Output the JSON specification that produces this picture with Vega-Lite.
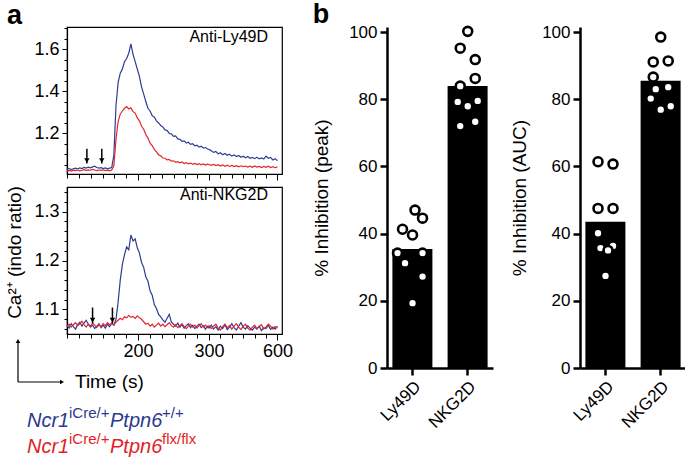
{
  "$schema": "https://vega.github.io/schema/vega-lite/v6.json",
  "padding": {"left": 5, "top": 0, "right": 0, "bottom": 0},
  "background": "white",
  "config": {
    "font": "Liberation Sans",
    "view": {"stroke": null},
    "axis": {"labelFont": "Liberation Sans", "titleFont": "Liberation Sans", "labelColor": "black", "titleColor": "black", "domainColor": "black", "tickColor": "black", "grid": false, "titleFontWeight": "normal", "labelOverlap": false},
    "title": {"font": "Liberation Sans", "fontWeight": "bold", "fontSize": 27, "anchor": "start", "frame": "bounds", "color": "black"}
  },
  "datasets": {
    "traces": [
      {"t":100,"lb":1.028,"lr":1.020,"nb":1.068,"nr":1.066},
      {"t":103,"lb":1.031,"lr":1.022,"nb":1.062,"nr":1.070},
      {"t":106,"lb":1.026,"lr":1.019,"nb":1.071,"nr":1.064},
      {"t":109,"lb":1.030,"lr":1.023,"nb":1.065,"nr":1.069},
      {"t":112,"lb":1.033,"lr":1.021,"nb":1.060,"nr":1.073},
      {"t":115,"lb":1.029,"lr":1.024,"nb":1.069,"nr":1.067},
      {"t":118,"lb":1.034,"lr":1.020,"nb":1.074,"nr":1.071},
      {"t":121,"lb":1.031,"lr":1.023,"nb":1.066,"nr":1.076},
      {"t":124,"lb":1.036,"lr":1.026,"nb":1.072,"nr":1.069},
      {"t":127,"lb":1.033,"lr":1.022,"nb":1.078,"nr":1.064},
      {"t":130,"lb":1.038,"lr":1.025,"nb":1.070,"nr":1.070},
      {"t":133,"lb":1.034,"lr":1.023,"nb":1.064,"nr":1.066},
      {"t":136,"lb":1.039,"lr":1.027,"nb":1.068,"nr":1.072},
      {"t":139,"lb":1.042,"lr":1.024,"nb":1.061,"nr":1.068},
      {"t":142,"lb":1.036,"lr":1.021,"nb":1.066,"nr":1.063},
      {"t":145,"lb":1.033,"lr":1.024,"nb":1.071,"nr":1.069},
      {"t":148,"lb":1.035,"lr":1.022,"nb":1.063,"nr":1.065},
      {"t":151,"lb":1.031,"lr":1.025,"nb":1.068,"nr":1.071},
      {"t":154,"lb":1.034,"lr":1.021,"nb":1.062,"nr":1.067},
      {"t":157,"lb":1.030,"lr":1.023,"nb":1.070,"nr":1.073},
      {"t":160,"lb":1.033,"lr":1.020,"nb":1.065,"nr":1.069},
      {"t":163,"lb":1.036,"lr":1.024,"nb":1.072,"nr":1.072},
      {"t":166,"lb":1.095,"lr":1.045,"nb":1.068,"nr":1.068},
      {"t":169,"lb":1.330,"lr":1.170,"nb":1.080,"nr":1.074},
      {"t":172,"lb":1.440,"lr":1.255,"nb":1.115,"nr":1.078},
      {"t":175,"lb":1.485,"lr":1.290,"nb":1.160,"nr":1.082},
      {"t":178,"lb":1.505,"lr":1.305,"nb":1.192,"nr":1.079},
      {"t":181,"lb":1.540,"lr":1.318,"nb":1.212,"nr":1.085},
      {"t":184,"lb":1.555,"lr":1.326,"nb":1.228,"nr":1.083},
      {"t":187,"lb":1.580,"lr":1.315,"nb":1.222,"nr":1.088},
      {"t":190,"lb":1.625,"lr":1.320,"nb":1.252,"nr":1.084},
      {"t":193,"lb":1.575,"lr":1.302,"nb":1.240,"nr":1.086},
      {"t":196,"lb":1.540,"lr":1.295,"nb":1.244,"nr":1.082},
      {"t":199,"lb":1.505,"lr":1.272,"nb":1.226,"nr":1.087},
      {"t":202,"lb":1.470,"lr":1.258,"nb":1.215,"nr":1.083},
      {"t":205,"lb":1.420,"lr":1.232,"nb":1.196,"nr":1.080},
      {"t":208,"lb":1.385,"lr":1.218,"nb":1.186,"nr":1.075},
      {"t":211,"lb":1.350,"lr":1.193,"nb":1.166,"nr":1.070},
      {"t":214,"lb":1.318,"lr":1.176,"nb":1.158,"nr":1.072},
      {"t":217,"lb":1.305,"lr":1.152,"nb":1.138,"nr":1.066},
      {"t":220,"lb":1.282,"lr":1.140,"nb":1.129,"nr":1.070},
      {"t":223,"lb":1.276,"lr":1.122,"nb":1.110,"nr":1.064},
      {"t":226,"lb":1.258,"lr":1.110,"nb":1.102,"nr":1.068},
      {"t":229,"lb":1.248,"lr":1.096,"nb":1.090,"nr":1.072},
      {"t":232,"lb":1.236,"lr":1.092,"nb":1.085,"nr":1.066},
      {"t":235,"lb":1.229,"lr":1.081,"nb":1.079,"nr":1.070},
      {"t":238,"lb":1.215,"lr":1.080,"nb":1.074,"nr":1.065},
      {"t":241,"lb":1.212,"lr":1.072,"nb":1.082,"nr":1.069},
      {"t":244,"lb":1.198,"lr":1.074,"nb":1.090,"nr":1.073},
      {"t":247,"lb":1.196,"lr":1.066,"nb":1.074,"nr":1.067},
      {"t":250,"lb":1.184,"lr":1.068,"nb":1.070,"nr":1.064},
      {"t":253,"lb":1.186,"lr":1.061,"nb":1.066,"nr":1.069},
      {"t":256,"lb":1.172,"lr":1.064,"nb":1.072,"nr":1.063},
      {"t":259,"lb":1.170,"lr":1.058,"nb":1.064,"nr":1.067},
      {"t":262,"lb":1.161,"lr":1.062,"nb":1.069,"nr":1.071},
      {"t":265,"lb":1.163,"lr":1.055,"nb":1.062,"nr":1.065},
      {"t":268,"lb":1.152,"lr":1.059,"nb":1.067,"nr":1.061},
      {"t":271,"lb":1.156,"lr":1.053,"nb":1.071,"nr":1.066},
      {"t":274,"lb":1.146,"lr":1.057,"nb":1.063,"nr":1.070},
      {"t":277,"lb":1.149,"lr":1.051,"nb":1.068,"nr":1.064},
      {"t":280,"lb":1.139,"lr":1.055,"nb":1.061,"nr":1.068},
      {"t":283,"lb":1.142,"lr":1.050,"nb":1.066,"nr":1.062},
      {"t":286,"lb":1.133,"lr":1.054,"nb":1.070,"nr":1.067},
      {"t":289,"lb":1.137,"lr":1.049,"nb":1.063,"nr":1.071},
      {"t":292,"lb":1.128,"lr":1.053,"nb":1.067,"nr":1.064},
      {"t":295,"lb":1.131,"lr":1.048,"nb":1.060,"nr":1.068},
      {"t":298,"lb":1.124,"lr":1.052,"nb":1.066,"nr":1.063},
      {"t":300,"lb":1.122,"lr":1.050,"nb":1.062,"nr":1.067},
      {"t":310,"lb":1.116,"lr":1.046,"nb":1.068,"nr":1.061},
      {"t":320,"lb":1.108,"lr":1.051,"nb":1.060,"nr":1.066},
      {"t":330,"lb":1.112,"lr":1.045,"nb":1.065,"nr":1.070},
      {"t":340,"lb":1.101,"lr":1.049,"nb":1.058,"nr":1.062},
      {"t":350,"lb":1.106,"lr":1.043,"nb":1.066,"nr":1.058},
      {"t":360,"lb":1.097,"lr":1.048,"nb":1.061,"nr":1.065},
      {"t":370,"lb":1.103,"lr":1.042,"nb":1.069,"nr":1.070},
      {"t":380,"lb":1.094,"lr":1.047,"nb":1.059,"nr":1.063},
      {"t":390,"lb":1.099,"lr":1.041,"nb":1.064,"nr":1.067},
      {"t":400,"lb":1.090,"lr":1.046,"nb":1.071,"nr":1.060},
      {"t":410,"lb":1.096,"lr":1.040,"nb":1.063,"nr":1.066},
      {"t":420,"lb":1.088,"lr":1.045,"nb":1.058,"nr":1.071},
      {"t":430,"lb":1.093,"lr":1.039,"nb":1.066,"nr":1.064},
      {"t":440,"lb":1.085,"lr":1.044,"nb":1.073,"nr":1.059},
      {"t":450,"lb":1.090,"lr":1.040,"nb":1.064,"nr":1.066},
      {"t":460,"lb":1.082,"lr":1.043,"nb":1.060,"nr":1.070},
      {"t":470,"lb":1.088,"lr":1.038,"nb":1.067,"nr":1.062},
      {"t":480,"lb":1.080,"lr":1.042,"nb":1.062,"nr":1.058},
      {"t":490,"lb":1.084,"lr":1.037,"nb":1.058,"nr":1.064},
      {"t":500,"lb":1.078,"lr":1.043,"nb":1.064,"nr":1.068},
      {"t":510,"lb":1.085,"lr":1.038,"nb":1.060,"nr":1.061},
      {"t":520,"lb":1.077,"lr":1.041,"nb":1.066,"nr":1.065},
      {"t":530,"lb":1.082,"lr":1.036,"nb":1.057,"nr":1.069},
      {"t":540,"lb":1.076,"lr":1.041,"nb":1.063,"nr":1.060},
      {"t":550,"lb":1.090,"lr":1.037,"nb":1.061,"nr":1.064},
      {"t":560,"lb":1.080,"lr":1.042,"nb":1.068,"nr":1.070},
      {"t":570,"lb":1.084,"lr":1.036,"nb":1.059,"nr":1.066},
      {"t":580,"lb":1.072,"lr":1.040,"nb":1.064,"nr":1.060},
      {"t":590,"lb":1.078,"lr":1.035,"nb":1.060,"nr":1.065},
      {"t":600,"lb":1.068,"lr":1.039,"nb":1.066,"nr":1.062}
    ],
    "arrows": [
      {"panel":"Ly49D","t":128,"top":1.125,"tip":1.055},
      {"panel":"Ly49D","t":149,"top":1.125,"tip":1.055},
      {"panel":"NKG2D","t":136,"top":1.104,"tip":1.072},
      {"panel":"NKG2D","t":164,"top":1.104,"tip":1.072}
    ],
    "inhibition": [
      {"measure":"peak","receptor":"Ly49D","value":47.0,"lane":1},
      {"measure":"peak","receptor":"Ly49D","value":44.6,"lane":4},
      {"measure":"peak","receptor":"Ly49D","value":41.3,"lane":-4},
      {"measure":"peak","receptor":"Ly49D","value":39.6,"lane":0},
      {"measure":"peak","receptor":"Ly49D","value":34.2,"lane":-6},
      {"measure":"peak","receptor":"Ly49D","value":34.2,"lane":4},
      {"measure":"peak","receptor":"Ly49D","value":31.2,"lane":-3},
      {"measure":"peak","receptor":"Ly49D","value":27.2,"lane":4},
      {"measure":"peak","receptor":"Ly49D","value":19.3,"lane":0},
      {"measure":"peak","receptor":"NKG2D","value":100.2,"lane":0},
      {"measure":"peak","receptor":"NKG2D","value":95.2,"lane":-3},
      {"measure":"peak","receptor":"NKG2D","value":91.8,"lane":3},
      {"measure":"peak","receptor":"NKG2D","value":86.2,"lane":3},
      {"measure":"peak","receptor":"NKG2D","value":83.9,"lane":-3},
      {"measure":"peak","receptor":"NKG2D","value":79.2,"lane":-4},
      {"measure":"peak","receptor":"NKG2D","value":77.9,"lane":0},
      {"measure":"peak","receptor":"NKG2D","value":79.5,"lane":4},
      {"measure":"peak","receptor":"NKG2D","value":72.0,"lane":-3},
      {"measure":"peak","receptor":"NKG2D","value":73.3,"lane":3},
      {"measure":"AUC","receptor":"Ly49D","value":61.4,"lane":-3},
      {"measure":"AUC","receptor":"Ly49D","value":60.7,"lane":3},
      {"measure":"AUC","receptor":"Ly49D","value":47.5,"lane":-3},
      {"measure":"AUC","receptor":"Ly49D","value":47.5,"lane":3},
      {"measure":"AUC","receptor":"Ly49D","value":40.1,"lane":-3},
      {"measure":"AUC","receptor":"Ly49D","value":35.7,"lane":-2},
      {"measure":"AUC","receptor":"Ly49D","value":36.3,"lane":3},
      {"measure":"AUC","receptor":"Ly49D","value":35.0,"lane":1},
      {"measure":"AUC","receptor":"Ly49D","value":27.4,"lane":0},
      {"measure":"AUC","receptor":"NKG2D","value":98.5,"lane":0},
      {"measure":"AUC","receptor":"NKG2D","value":91.1,"lane":-3},
      {"measure":"AUC","receptor":"NKG2D","value":91.4,"lane":3},
      {"measure":"AUC","receptor":"NKG2D","value":86.6,"lane":-3},
      {"measure":"AUC","receptor":"NKG2D","value":83.0,"lane":-2},
      {"measure":"AUC","receptor":"NKG2D","value":83.6,"lane":3},
      {"measure":"AUC","receptor":"NKG2D","value":80.2,"lane":-4},
      {"measure":"AUC","receptor":"NKG2D","value":77.9,"lane":4},
      {"measure":"AUC","receptor":"NKG2D","value":76.9,"lane":0}
    ]
  },
  "spacing": 18,
  "hconcat": [
    {
      "bounds": "flush",
      "spacing": 13,
      "vconcat": [
        {
          "width": 215, "height": 147,
          "view": {"stroke": "black", "strokeWidth": 1.2},
          "title": {"text": "Anti-Ly49D", "anchor": "end", "frame": "group", "offset": -26, "dx": -14, "fontSize": 16, "fontWeight": "normal"},
          "encoding": {
            "x": {"field": "t", "type": "quantitative",
              "scale": {"domain": [100, 300, 620], "range": [0, 142, 215], "nice": false, "zero": false},
              "axis": {"title": null, "labels": false, "labelOverlap": false,
                "values": [100,116.667,133.333,150,166.667,183.333,200,216.667,233.333,250,266.667,283.333,300,350,400,450,500,550,600],
                "tickSize": {"condition": {"test": "datum.value==200||datum.value==300||datum.value==600", "value": 6}, "value": 4},
                "tickWidth": 1, "domainWidth": 1.2}},
            "y": {"field": "value", "type": "quantitative",
              "scale": {"domain": [1.005, 1.705], "nice": false, "zero": false},
              "axis": {"title": null, "labelOverlap": false, "values": [1.05,1.1,1.15,1.2,1.25,1.3,1.35,1.4,1.45,1.5,1.55,1.6,1.65,1.7],
                "labelExpr": "abs(datum.value-1.2)<0.001||abs(datum.value-1.4)<0.001||abs(datum.value-1.6)<0.001 ? format(datum.value,'.1f') : ''",
                "tickSize": {"condition": {"test": "abs(datum.value-1.2)<0.001||abs(datum.value-1.4)<0.001||abs(datum.value-1.6)<0.001", "value": 5}, "value": 3},
                "labelFontSize": 18, "labelPadding": 3, "tickWidth": 1, "domainWidth": 1.2}}
          },
          "layer": [
            {"data": {"name": "traces"},
             "transform": [{"fold": ["lb", "lr"], "as": ["series", "value"]}],
             "mark": {"type": "line", "strokeWidth": 1.2},
             "encoding": {"color": {"field": "series", "type": "nominal", "scale": {"domain": ["lb", "lr"], "range": ["#2E3D94", "#E3262D"]}, "legend": null}}},
            {"data": {"name": "arrows"},
             "transform": [{"filter": "datum.panel == 'Ly49D'"}, {"calculate": "datum.top", "as": "value"}],
             "mark": {"type": "rule", "color": "black", "strokeWidth": 1.5},
             "encoding": {"y2": {"field": "tip"}}},
            {"data": {"name": "arrows"},
             "transform": [{"filter": "datum.panel == 'Ly49D'"}, {"calculate": "datum.tip", "as": "value"}],
             "mark": {"type": "point", "shape": "triangle-down", "filled": true, "color": "black", "size": 30, "yOffset": -3, "opacity": 1}}
          ]
        },
        {
          "width": 215, "height": 147,
          "view": {"stroke": "black", "strokeWidth": 1.2},
          "title": {"text": "Anti-NKG2D", "anchor": "end", "frame": "group", "offset": -20, "dx": -14, "fontSize": 16, "fontWeight": "normal"},
          "encoding": {
            "x": {"field": "t", "type": "quantitative",
              "scale": {"domain": [100, 300, 620], "range": [0, 142, 215], "nice": false, "zero": false},
              "axis": {"title": null, "labelOverlap": false,
                "values": [100,116.667,133.333,150,166.667,183.333,200,216.667,233.333,250,266.667,283.333,300,350,400,450,500,550,600],
                "labelExpr": "datum.value==200||datum.value==300||datum.value==600 ? format(datum.value,'d') : ''",
                "tickSize": {"condition": {"test": "datum.value==200||datum.value==300||datum.value==600", "value": 6}, "value": 4},
                "labelFontSize": 18, "labelPadding": 2, "tickWidth": 1, "domainWidth": 1.2}},
            "y": {"field": "value", "type": "quantitative",
              "scale": {"domain": [1.05, 1.35], "nice": false, "zero": false},
              "axis": {"title": "Ca²⁺ (indo ratio)", "titleFontSize": 19, "titlePadding": 9, "titleY": 65, "labelOverlap": false,
                "values": [1.06,1.08,1.1,1.12,1.14,1.16,1.18,1.2,1.22,1.24,1.26,1.28,1.3,1.32,1.34],
                "labelExpr": "abs(datum.value-1.1)<0.001||abs(datum.value-1.2)<0.001||abs(datum.value-1.3)<0.001 ? format(datum.value,'.1f') : ''",
                "tickSize": {"condition": {"test": "abs(datum.value-1.1)<0.001||abs(datum.value-1.2)<0.001||abs(datum.value-1.3)<0.001", "value": 5}, "value": 3},
                "labelFontSize": 18, "labelPadding": 3, "tickWidth": 1, "domainWidth": 1.2}}
          },
          "layer": [
            {"data": {"name": "traces"},
             "transform": [{"fold": ["nb", "nr"], "as": ["series", "value"]}],
             "mark": {"type": "line", "strokeWidth": 1.2},
             "encoding": {"color": {"field": "series", "type": "nominal", "scale": {"domain": ["nb", "nr"], "range": ["#2E3D94", "#E3262D"]}, "legend": null}}},
            {"data": {"name": "arrows"},
             "transform": [{"filter": "datum.panel == 'NKG2D'"}, {"calculate": "datum.top", "as": "value"}],
             "mark": {"type": "rule", "color": "black", "strokeWidth": 1.5},
             "encoding": {"y2": {"field": "tip"}}},
            {"data": {"name": "arrows"},
             "transform": [{"filter": "datum.panel == 'NKG2D'"}, {"calculate": "datum.tip", "as": "value"}],
             "mark": {"type": "point", "shape": "triangle-down", "filled": true, "color": "black", "size": 30, "yOffset": -3, "opacity": 1}}
          ]
        },
        {
          "width": 215, "height": 110,
          "layer": [
            {"data": {"values": [{"s": "a"}]}, "mark": {"type": "text", "align": "left", "baseline": "alphabetic", "fontSize": 27, "fontWeight": "bold", "font": "Liberation Sans", "color": "black"},
             "encoding": {"x": {"datum": -60, "type": "quantitative", "scale": {"domain": [0, 215], "nice": false, "zero": false}, "axis": null},
               "y": {"datum": -323, "type": "quantitative", "scale": {"domain": [0, 110], "nice": false, "zero": false, "reverse": true}, "axis": null}, "text": {"field": "s"}}},
            {"data": {"values": [{}]}, "mark": {"type": "rule", "color": "black", "strokeWidth": 1.2},
             "encoding": {"x": {"datum": -49, "type": "quantitative", "scale": {"domain": [0, 215], "nice": false, "zero": false}, "axis": null},
               "y": {"datum": -4, "type": "quantitative", "scale": {"domain": [0, 110], "nice": false, "zero": false, "reverse": true}, "axis": null},
               "y2": {"datum": 35}}},
            {"data": {"values": [{}]}, "mark": {"type": "point", "shape": "triangle-up", "filled": true, "color": "black", "size": 22, "opacity": 1},
             "encoding": {"x": {"datum": -49, "type": "quantitative", "scale": {"domain": [0, 215], "nice": false, "zero": false}, "axis": null},
               "y": {"datum": -6, "type": "quantitative", "scale": {"domain": [0, 110], "nice": false, "zero": false, "reverse": true}, "axis": null}}},
            {"data": {"values": [{}]}, "mark": {"type": "rule", "color": "black", "strokeWidth": 1.2},
             "encoding": {"x": {"datum": -49, "type": "quantitative", "scale": {"domain": [0, 215], "nice": false, "zero": false}, "axis": null},
               "x2": {"datum": -7},
               "y": {"datum": 35, "type": "quantitative", "scale": {"domain": [0, 110], "nice": false, "zero": false, "reverse": true}, "axis": null}}},
            {"data": {"values": [{}]}, "mark": {"type": "point", "shape": "triangle-right", "filled": true, "color": "black", "size": 22, "opacity": 1},
             "encoding": {"x": {"datum": -5, "type": "quantitative", "scale": {"domain": [0, 215], "nice": false, "zero": false}, "axis": null},
               "y": {"datum": 35, "type": "quantitative", "scale": {"domain": [0, 110], "nice": false, "zero": false, "reverse": true}, "axis": null}}},
            {"data": {"values": [{"s": "Time (s)"}]}, "mark": {"type": "text", "align": "left", "baseline": "middle", "fontSize": 19, "font": "Liberation Sans", "color": "black"},
             "encoding": {"x": {"datum": 8, "type": "quantitative", "scale": {"domain": [0, 215], "nice": false, "zero": false}, "axis": null},
               "y": {"datum": 35, "type": "quantitative", "scale": {"domain": [0, 110], "nice": false, "zero": false, "reverse": true}, "axis": null}, "text": {"field": "s"}}},
            {"data": {"values": [{"s": "Ncr1"}]}, "mark": {"type": "text", "align": "left", "baseline": "alphabetic", "fontSize": 20, "fontStyle": "italic", "font": "Liberation Sans", "color": "#2B3990"},
             "encoding": {"x": {"datum": -40, "type": "quantitative", "scale": {"domain": [0, 215], "nice": false, "zero": false}, "axis": null},
               "y": {"datum": 80, "type": "quantitative", "scale": {"domain": [0, 110], "nice": false, "zero": false, "reverse": true}, "axis": null}, "text": {"field": "s"}}},
            {"data": {"values": [{"s": "iCre/+"}]}, "mark": {"type": "text", "align": "left", "baseline": "alphabetic", "fontSize": 15, "font": "Liberation Sans", "color": "#2B3990"},
             "encoding": {"x": {"datum": 2, "type": "quantitative", "scale": {"domain": [0, 215], "nice": false, "zero": false}, "axis": null},
               "y": {"datum": 71, "type": "quantitative", "scale": {"domain": [0, 110], "nice": false, "zero": false, "reverse": true}, "axis": null}, "text": {"field": "s"}}},
            {"data": {"values": [{"s": "Ptpn6"}]}, "mark": {"type": "text", "align": "left", "baseline": "alphabetic", "fontSize": 20, "fontStyle": "italic", "font": "Liberation Sans", "color": "#2B3990"},
             "encoding": {"x": {"datum": 43, "type": "quantitative", "scale": {"domain": [0, 215], "nice": false, "zero": false}, "axis": null},
               "y": {"datum": 80, "type": "quantitative", "scale": {"domain": [0, 110], "nice": false, "zero": false, "reverse": true}, "axis": null}, "text": {"field": "s"}}},
            {"data": {"values": [{"s": "+/+"}]}, "mark": {"type": "text", "align": "left", "baseline": "alphabetic", "fontSize": 15, "font": "Liberation Sans", "color": "#2B3990"},
             "encoding": {"x": {"datum": 95, "type": "quantitative", "scale": {"domain": [0, 215], "nice": false, "zero": false}, "axis": null},
               "y": {"datum": 71, "type": "quantitative", "scale": {"domain": [0, 110], "nice": false, "zero": false, "reverse": true}, "axis": null}, "text": {"field": "s"}}},
            {"data": {"values": [{"s": "Ncr1"}]}, "mark": {"type": "text", "align": "left", "baseline": "alphabetic", "fontSize": 20, "fontStyle": "italic", "font": "Liberation Sans", "color": "#E31E26"},
             "encoding": {"x": {"datum": -40, "type": "quantitative", "scale": {"domain": [0, 215], "nice": false, "zero": false}, "axis": null},
               "y": {"datum": 106, "type": "quantitative", "scale": {"domain": [0, 110], "nice": false, "zero": false, "reverse": true}, "axis": null}, "text": {"field": "s"}}},
            {"data": {"values": [{"s": "iCre/+"}]}, "mark": {"type": "text", "align": "left", "baseline": "alphabetic", "fontSize": 15, "font": "Liberation Sans", "color": "#E31E26"},
             "encoding": {"x": {"datum": 2, "type": "quantitative", "scale": {"domain": [0, 215], "nice": false, "zero": false}, "axis": null},
               "y": {"datum": 97, "type": "quantitative", "scale": {"domain": [0, 110], "nice": false, "zero": false, "reverse": true}, "axis": null}, "text": {"field": "s"}}},
            {"data": {"values": [{"s": "Ptpn6"}]}, "mark": {"type": "text", "align": "left", "baseline": "alphabetic", "fontSize": 20, "fontStyle": "italic", "font": "Liberation Sans", "color": "#E31E26"},
             "encoding": {"x": {"datum": 43, "type": "quantitative", "scale": {"domain": [0, 215], "nice": false, "zero": false}, "axis": null},
               "y": {"datum": 106, "type": "quantitative", "scale": {"domain": [0, 110], "nice": false, "zero": false, "reverse": true}, "axis": null}, "text": {"field": "s"}}},
            {"data": {"values": [{"s": "flx/flx"}]}, "mark": {"type": "text", "align": "left", "baseline": "alphabetic", "fontSize": 15, "font": "Liberation Sans", "color": "#E31E26"},
             "encoding": {"x": {"datum": 95, "type": "quantitative", "scale": {"domain": [0, 215], "nice": false, "zero": false}, "axis": null},
               "y": {"datum": 97, "type": "quantitative", "scale": {"domain": [0, 110], "nice": false, "zero": false, "reverse": true}, "axis": null}, "text": {"field": "s"}}}
          ]
        }
      ]
    },
    {
      "title": {"text": "b", "offset": -7},
      "spacing": 17,
      "hconcat": [
        {
          "width": 106, "height": 341,
          "data": {"name": "inhibition"},
          "transform": [{"filter": "datum.measure == 'peak'"}],
          "resolve": {"scale": {"x": "independent", "xOffset": "independent"}, "axis": {"x": "independent"}},
          "layer": [
            {"mark": {"type": "bar", "color": "black", "width": 40},
             "encoding": {
               "x": {"field": "receptor", "type": "nominal", "sort": ["Ly49D", "NKG2D"],
                 "scale": {"paddingInner": 0.28, "paddingOuter": 0.1},
                 "axis": {"title": null, "labelAngle": -45, "labelFontSize": 17, "labelPadding": 3, "tickSize": 7, "tickWidth": 2.5, "domainWidth": 2.5}},
               "y": {"aggregate": "mean", "field": "value", "type": "quantitative",
               "scale": {"domain": [0, 101.5], "nice": false},
               "axis": {"title": "% Inhibition (peak)", "titleFontSize": 19, "titlePadding": 17, "values": [0,20,40,60,80,100], "labelFontSize": 17, "labelPadding": 3, "tickSize": 7, "tickWidth": 2.5, "domainWidth": 2.5}}}},
            {"mark": {"type": "point", "shape": "circle", "filled": true, "fill": "white", "stroke": "black", "strokeWidth": 2.6, "size": 80, "opacity": 1},
             "encoding": {
               "x": {"field": "receptor", "type": "nominal", "sort": ["Ly49D", "NKG2D"],
                 "scale": {"paddingInner": 0.28, "paddingOuter": 0.1}, "axis": null},
               "xOffset": {"field": "lane", "type": "quantitative", "scale": {"domain": [-8, 8], "range": [0, 40]}},
               "y": {"field": "value", "type": "quantitative", "scale": {"domain": [0, 101.5], "nice": false}}}}
          ]
        },
        {
          "width": 106, "height": 341,
          "data": {"name": "inhibition"},
          "transform": [{"filter": "datum.measure == 'AUC'"}],
          "resolve": {"scale": {"x": "independent", "xOffset": "independent"}, "axis": {"x": "independent"}},
          "layer": [
            {"mark": {"type": "bar", "color": "black", "width": 40},
             "encoding": {
               "x": {"field": "receptor", "type": "nominal", "sort": ["Ly49D", "NKG2D"],
                 "scale": {"paddingInner": 0.28, "paddingOuter": 0.1},
                 "axis": {"title": null, "labelAngle": -45, "labelFontSize": 17, "labelPadding": 3, "tickSize": 7, "tickWidth": 2.5, "domainWidth": 2.5}},
               "y": {"aggregate": "mean", "field": "value", "type": "quantitative",
               "scale": {"domain": [0, 101.5], "nice": false},
               "axis": {"title": "% Inhibition (AUC)", "titleFontSize": 19, "titlePadding": 12, "values": [0,20,40,60,80,100], "labelFontSize": 17, "labelPadding": 3, "tickSize": 7, "tickWidth": 2.5, "domainWidth": 2.5}}}},
            {"mark": {"type": "point", "shape": "circle", "filled": true, "fill": "white", "stroke": "black", "strokeWidth": 2.6, "size": 80, "opacity": 1},
             "encoding": {
               "x": {"field": "receptor", "type": "nominal", "sort": ["Ly49D", "NKG2D"],
                 "scale": {"paddingInner": 0.28, "paddingOuter": 0.1}, "axis": null},
               "xOffset": {"field": "lane", "type": "quantitative", "scale": {"domain": [-8, 8], "range": [0, 40]}},
               "y": {"field": "value", "type": "quantitative", "scale": {"domain": [0, 101.5], "nice": false}}}}
          ]
        }
      ]
    }
  ]
}
